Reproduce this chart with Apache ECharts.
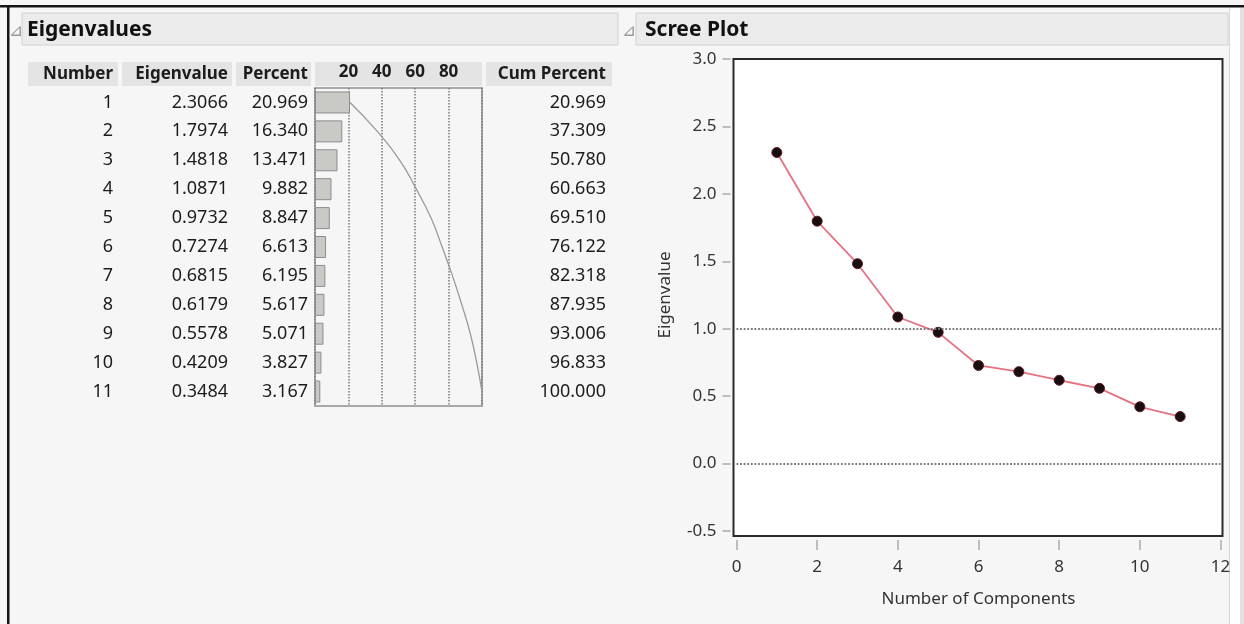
<!DOCTYPE html>
<html>
<head>
<meta charset="utf-8">
<script src="https://cdn.jsdelivr.net/npm/echarts@6/dist/echarts.min.js"></script>
<style>
html,body{margin:0;padding:0;background:#f6f6f6;}
#chart{width:1244px;height:624px;}
</style>
</head>
<body>
<div id="chart"></div>
<script>
// ---- data ----
const rows = ['1','2','3','4','5','6','7','8','9','10','11'];
const eigenvalues = [2.3066, 1.7974, 1.4818, 1.0871, 0.9732, 0.7274, 0.6815, 0.6179, 0.5578, 0.4209, 0.3484];
const percents = [20.969, 16.340, 13.471, 9.882, 8.847, 6.613, 6.195, 5.617, 5.071, 3.827, 3.167];
const cumPercents = [20.969, 37.309, 50.780, 60.663, 69.510, 76.122, 82.318, 87.935, 93.006, 96.833, 100.000];
const components = [1,2,3,4,5,6,7,8,9,10,11];
const headers = ['Number','Eigenvalue','Percent','Cum Percent'];
const refLines = [1, 0];

const FONT = '"Noto Sans", "Open Sans", sans-serif';
const TXT = '#1c1c1c';
const FS = 18;

const chart = echarts.init(document.getElementById('chart'), null, {renderer:'canvas'});

const TOP = 88, H = 318;
function colGrid(left, width){ return {left:left, top:TOP, width:width, height:H, show:false, containLabel:false}; }
function colY(gridIndex, fmt, margin){
  return {type:'category', gridIndex:gridIndex, data:rows, inverse:true,
    axisLine:{show:false}, axisTick:{show:false}, splitLine:{show:false},
    axisLabel:{show:true, margin:margin, fontFamily:FONT, fontSize:FS, color:TXT, formatter:fmt}};
}
function hiddenX(gridIndex){ return {type:'value', gridIndex:gridIndex, show:false, min:0, max:1}; }

const option = {
  backgroundColor:'#f6f6f6',
  animation:false,
  graphic:[
    // outer frame
    {type:'rect', shape:{x:0,y:5,width:1244,height:2.5}, style:{fill:'#151515'}, silent:true},
    {type:'rect', shape:{x:7,y:5,width:2.5,height:619}, style:{fill:'#151515'}, silent:true},
    {type:'rect', shape:{x:1229,y:8,width:1,height:616}, style:{fill:'#d6d6d6'}, silent:true},
    {type:'rect', shape:{x:1230,y:8,width:10,height:616}, style:{fill:'#ffffff'}, silent:true},
    {type:'rect', shape:{x:1240,y:8,width:4,height:616}, style:{fill:'#e2e2e2'}, silent:true},
    // panel headers
    {type:'rect', shape:{x:22,y:13,width:596,height:32}, style:{fill:'#ebebeb', stroke:'#d2d2d2', lineWidth:1}, silent:true},
    {type:'rect', shape:{x:636,y:13,width:592,height:32}, style:{fill:'#ebebeb', stroke:'#d2d2d2', lineWidth:1}, silent:true},
    {type:'text', style:{x:9,y:31,text:'⊿',fill:'#9a9a9a',font:'17px '+FONT,textVerticalAlign:'middle'}, silent:true},
    {type:'text', style:{x:622,y:31,text:'⊿',fill:'#9a9a9a',font:'17px '+FONT,textVerticalAlign:'middle'}, silent:true},
    {type:'text', style:{x:27,y:30,text:'Eigenvalues',fill:'#111',font:'bold 21px '+FONT,textVerticalAlign:'middle'}, silent:true},
    {type:'text', style:{x:645,y:30,text:'Scree Plot',fill:'#111',font:'bold 21px '+FONT,textVerticalAlign:'middle'}, silent:true},
    // table header cells
    {type:'rect', shape:{x:28,y:62,width:90,height:24}, style:{fill:'#e4e4e4'}, silent:true},
    {type:'rect', shape:{x:122,y:62,width:110,height:24}, style:{fill:'#e4e4e4'}, silent:true},
    {type:'rect', shape:{x:236,y:62,width:75,height:24}, style:{fill:'#e4e4e4'}, silent:true},
    {type:'rect', shape:{x:315,y:62,width:167,height:24}, style:{fill:'#e4e4e4'}, silent:true},
    {type:'rect', shape:{x:486,y:62,width:126,height:24}, style:{fill:'#e4e4e4'}, silent:true},
    {type:'text', style:{x:113,y:74,text:headers[0],fill:TXT,font:'bold 17px '+FONT,textAlign:'right',textVerticalAlign:'middle'}, silent:true},
    {type:'text', style:{x:228,y:74,text:headers[1],fill:TXT,font:'bold 17px '+FONT,textAlign:'right',textVerticalAlign:'middle'}, silent:true},
    {type:'text', style:{x:308,y:74,text:headers[2],fill:TXT,font:'bold 17px '+FONT,textAlign:'right',textVerticalAlign:'middle'}, silent:true},
    {type:'text', style:{x:606,y:74,text:headers[3],fill:TXT,font:'bold 17px '+FONT,textAlign:'right',textVerticalAlign:'middle'}, silent:true}
  ],
  grid:[
    colGrid(117,1),                 // 0 Number
    colGrid(232,1),                 // 1 Eigenvalue
    {left:315, top:TOP, width:167, height:H, show:true, borderColor:'#a8a8a8', borderWidth:2, backgroundColor:'transparent'}, // 2 bars
    colGrid(610,1),                 // 3 Cum Percent
    {left:733.5, top:59, width:489, height:477, show:true, borderColor:'#2a2a2a', borderWidth:2, backgroundColor:'#ffffff'}, // 4 frame
    {left:736.5, top:59, width:484, height:472, show:false} // 5 scree
  ],
  xAxis:[
    hiddenX(0), hiddenX(1),
    {type:'value', gridIndex:2, min:0, max:100, interval:20, position:'top',
      axisLine:{show:false}, axisTick:{show:false},
      splitLine:{show:true, lineStyle:{type:'dotted', color:'#7a7a7a', width:1.5}},
      axisLabel:{show:true, margin:7, fontFamily:FONT, fontWeight:'bold', fontSize:17, color:TXT,
        formatter:function(v){ return (v===0||v===100)?'':String(v); }}},
    hiddenX(3),
    {type:'value', gridIndex:4, show:false, min:0, max:1},
    {type:'value', gridIndex:5, min:0, max:12, interval:2, offset:9, position:'bottom',
      axisLine:{show:false, onZero:false}, axisTick:{show:true, length:10, lineStyle:{color:'#aaaaaa', width:1.5}},
      splitLine:{show:false},
      axisLabel:{margin:19, fontFamily:FONT, fontSize:17, color:'#333'},
      name:'Number of Components', nameLocation:'middle', nameGap:51,
      nameTextStyle:{fontFamily:FONT, fontSize:17, color:'#333'}}
  ],
  yAxis:[
    colY(0, function(v,i){ return rows[i]; }, 4),
    colY(1, function(v,i){ return eigenvalues[i].toFixed(4); }, 4),
    colY(2, function(v,i){ return percents[i].toFixed(3); }, 7),
    colY(3, function(v,i){ return cumPercents[i].toFixed(3); }, 4),
    {type:'value', gridIndex:4, show:false, min:0, max:1},
    {type:'value', gridIndex:5, min:-0.5, max:3, interval:0.5, offset:6,
      axisLine:{show:false, onZero:false}, axisTick:{show:true, length:8, lineStyle:{color:'#aaaaaa', width:1.5}},
      splitLine:{show:false},
      axisLabel:{margin:14, fontFamily:FONT, fontSize:17, color:'#333', formatter:function(v){ return v.toFixed(1); }},
      name:'Eigenvalue', nameLocation:'middle', nameGap:57, nameRotate:90,
      nameTextStyle:{fontFamily:FONT, fontSize:17, color:'#333'}}
  ],
  series:[
    {type:'bar', xAxisIndex:2, yAxisIndex:2, barWidth:22,
      data:percents.map(function(v,i){ return [v, rows[i]]; }),
      itemStyle:{color:'#c9c9c5', borderColor:'#8c8c8c', borderWidth:1}, silent:true},
    {type:'line', xAxisIndex:2, yAxisIndex:2, smooth:true, symbol:'none',
      data:cumPercents.map(function(v,i){ return [v, rows[i]]; }),
      lineStyle:{color:'#9a9a9a', width:1.3}, silent:true},
    {type:'line', xAxisIndex:5, yAxisIndex:5, symbol:'circle', symbolSize:10,
      data:eigenvalues.map(function(v,i){ return [components[i], v]; }),
      lineStyle:{color:'#e57283', width:1.8},
      itemStyle:{color:'#1a0d10', borderColor:'#5a1a24', borderWidth:1},
      markLine:{silent:true, symbol:'none', label:{show:false},
        lineStyle:{type:'dotted', color:'#7a7a7a', width:1.8},
        data:refLines.map(function(v){ return {yAxis:v}; })}}
  ]
};
chart.setOption(option);
</script>
</body>
</html>
